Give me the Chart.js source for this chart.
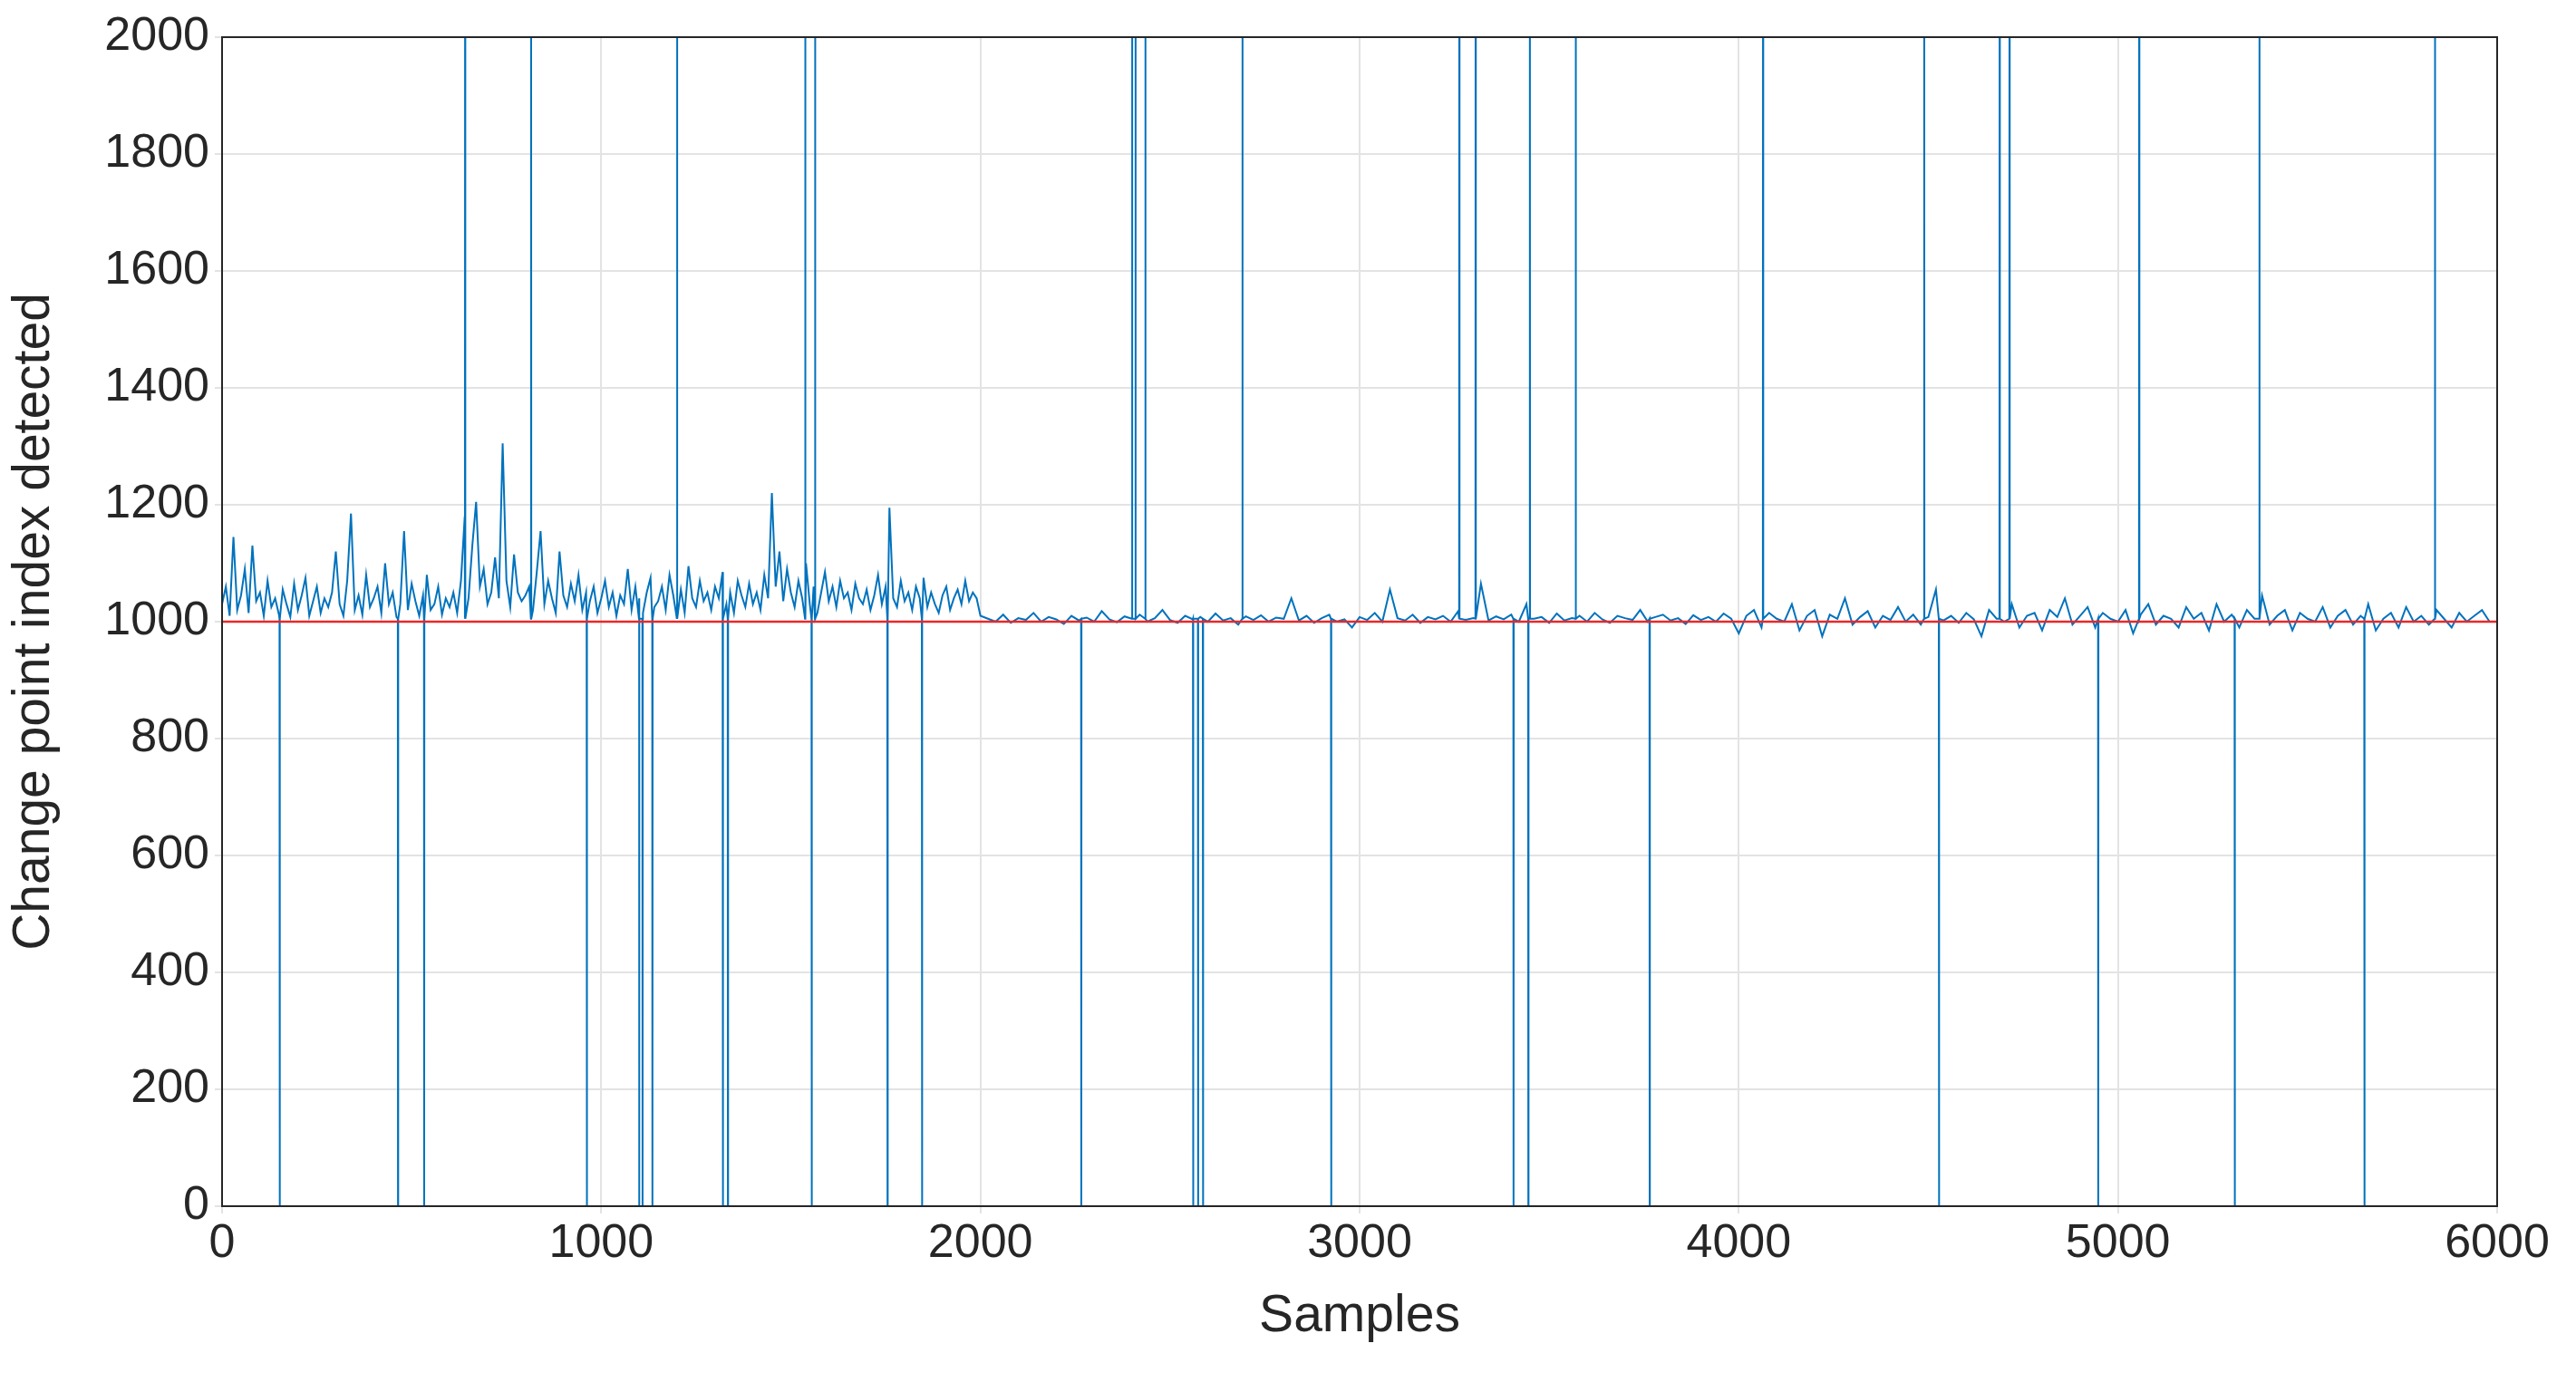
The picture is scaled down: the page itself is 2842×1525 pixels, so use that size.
<!DOCTYPE html><html><head><meta charset="utf-8">
<script src="https://cdn.jsdelivr.net/npm/chart.js@4"></script>
<style>html,body{margin:0;background:#fff}#w{width:2842px;height:1525px}</style></head><body><div id="w"><canvas id="c"></canvas></div>
<script>
// Noise, samples 0..1990 every 10
const noiseA=[1030,1060,1010,1145,1020,1045,1090,1015,1130,1035,1050,1010,1070,1025,1040,1012,1055,1030,1008,1065,
1020,1045,1075,1010,1035,1060,1015,1040,1025,1050,1120,1030,1010,1070,1185,1020,1045,1012,1080,1025,
1040,1060,1015,1100,1030,1050,1008,1030,1155,1020,1065,1035,1010,1045,1080,1020,1030,1060,1012,1040,
1025,1050,1015,1070,1180,1040,1130,1205,1060,1090,1030,1050,1110,1040,1305,1070,1025,1115,1050,1035,
1045,1060,1020,1085,1155,1030,1070,1040,1015,1120,1045,1025,1065,1035,1080,1020,1050,1035,1060,1015,
1040,1070,1025,1050,1010,1045,1030,1090,1020,1060,1040,1015,1050,1075,1025,1035,1060,1020,1080,1045,
1030,1055,1015,1095,1040,1025,1070,1035,1050,1020,1060,1040,1085,1030,1050,1015,1070,1045,1025,1065,
1030,1050,1020,1080,1040,1220,1060,1120,1035,1090,1050,1025,1070,1040,1100,1030,1060,1015,1050,1085,
1035,1060,1025,1070,1040,1050,1020,1065,1040,1030,1055,1020,1045,1080,1030,1060,1195,1040,1025,1070,
1035,1050,1020,1060,1040,1075,1025,1050,1030,1015,1045,1060,1020,1040,1055,1030,1070,1035,1050,1040];
// Noise, samples 2000..5980 every 20
const noiseB=[1010,1005,1000,1012,998,1006,1003,1015,1000,1008,1004,996,1010,1002,1007,1000,1018,1004,999,1009,
1005,1012,1000,1006,1020,1003,998,1010,1004,1008,1000,1014,1002,1006,995,1009,1003,1011,1000,1007,
1005,1040,1002,1010,998,1006,1012,1000,1004,990,1008,1003,1015,1000,1055,1006,1002,1012,998,1008,
1004,1010,1000,1018,1003,1006,1065,1002,1009,1004,1012,1000,1030,1005,1008,998,1014,1002,1006,1010,
1000,1015,1004,998,1010,1006,1003,1020,1000,1008,1012,1002,1006,996,1011,1003,1008,1000,1014,1005,
980,1010,1020,990,1015,1005,1000,1030,985,1010,1020,975,1012,1005,1040,995,1008,1018,990,1010,
1003,1025,1000,1012,995,1008,1055,1002,1010,998,1015,1004,975,1020,1005,1000,1030,990,1010,1015,
985,1020,1008,1040,995,1010,1025,990,1015,1005,1000,1020,980,1012,1030,995,1010,1005,990,1025,
1005,1015,985,1030,1000,1012,990,1020,1005,1045,995,1010,1020,985,1015,1005,1000,1025,990,1010,
1020,995,1010,1030,985,1005,1015,990,1025,1000,1010,995,1020,1005,990,1015,1000,1010,1020,1000];
const spikesUp=[641,815,1200,1538,1564,2400,2409,2435,2691,3263,3306,3449,3570,4064,4489,4688,4714,5056,5373,5836];
const spikesDown=[152,464,533,962,1100,1109,1135,1321,1334,1555,1755,1846,2266,2561,2574,2587,2925,3406,3445,3765,4528,4948,5308,5650];
const xTicks=[0,1000,2000,3000,4000,5000,6000];
const yTicks=[0,200,400,600,800,1000,1200,1400,1600,1800,2000];

const pts=[];
noiseA.forEach((v,i)=>pts.push({x:i*10,y:v}));
noiseB.forEach((v,i)=>pts.push({x:2000+i*20,y:v}));
spikesUp.forEach(s=>{pts.push({x:s-0.5,y:1005},{x:s,y:2300},{x:s+0.5,y:1005});});
spikesDown.forEach(s=>{pts.push({x:s-0.5,y:1005},{x:s,y:0},{x:s+0.5,y:1005});});
pts.sort((a,b)=>a.x-b.x);

const box={id:'box',afterDatasetsDraw(c){const a=c.chartArea,g=c.ctx;g.save();g.strokeStyle='#262626';g.lineWidth=2;g.strokeRect(a.left,a.top,a.right-a.left,a.bottom-a.top);g.restore();}};
const fmt=v=>String(v);
new Chart(document.getElementById('c'),{type:'line',
data:{datasets:[
{data:pts,borderColor:'#0072BD',borderWidth:2,pointRadius:0,tension:0,order:2},
{data:[{x:0,y:1000},{x:6000,y:1000}],borderColor:'#e8282a',borderWidth:2.5,pointRadius:0,order:1}]},
options:{responsive:true,maintainAspectRatio:false,animation:false,devicePixelRatio:1,
layout:{padding:{top:41,right:87,left:0,bottom:34}},
plugins:{legend:{display:false},tooltip:{enabled:false}},
scales:{
x:{type:'linear',min:0,max:6000,afterBuildTicks(s){s.ticks=xTicks.map(v=>({value:v}));},afterFit(s){s.height=160;},
grid:{color:'#e3e3e3',lineWidth:2,tickLength:8},border:{display:false},
ticks:{color:'#262626',font:{family:'Liberation Sans',size:52},padding:2,maxRotation:0,callback:fmt},
title:{display:true,text:'Samples',color:'#262626',font:{family:'Liberation Sans',size:57},padding:{top:2}}},
y:{min:0,max:2000,afterBuildTicks(s){s.ticks=yTicks.map(v=>({value:v}));},afterFit(s){s.width=245;},
grid:{color:'#e3e3e3',lineWidth:2,tickLength:8},border:{display:false},
ticks:{color:'#262626',font:{family:'Liberation Sans',size:52},padding:6,callback:fmt},
title:{display:true,text:'Change point index detected',color:'#262626',font:{family:'Liberation Sans',size:57},padding:{bottom:2}}}}},
plugins:[box]});
</script></body></html>
